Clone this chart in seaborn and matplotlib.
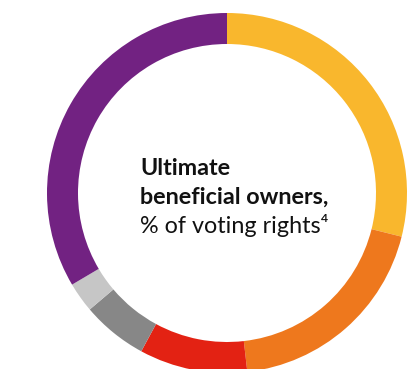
import matplotlib
matplotlib.use("Agg")
import matplotlib.pyplot as plt
import seaborn as sns

categories = ["Yellow", "Orange", "Red", "Dark grey", "Light grey", "Purple"]
values = [28.9, 19.3, 9.7, 5.9, 2.7, 33.5]
colors = ["#F9B72D", "#EE781D", "#E32213", "#878787", "#C6C6C6", "#722282"]
title_lines = ["Ultimate", "beneficial owners,"]
subtitle = "% of voting rights\u2074"

sns.set_theme(style="white")
plt.rcParams['font.family'] = ['Lato', 'DejaVu Sans']

fig = plt.figure(figsize=(4.10, 3.69), dpi=100)
ax = fig.add_axes([0, 0, 1, 1])
ax.pie(values, colors=colors, startangle=90, counterclock=False,
       center=(227, 176), radius=180,
       wedgeprops=dict(width=31, edgecolor="none", linewidth=0))
ax.set_xlim(0, 410)
ax.set_ylim(0, 369)
ax.set_aspect('equal')
ax.axis('off')

baselines = [175, 204]
for line, yb in zip(title_lines, baselines):
    ax.text(140, 369 - yb, line, fontsize=16.8, fontweight='bold',
            color='#111111', ha='left', va='baseline')
ax.text(140, 369 - 233, subtitle, fontsize=16.8, color='#111111',
        ha='left', va='baseline')

fig.savefig("out.png", dpi=100, facecolor="white")
